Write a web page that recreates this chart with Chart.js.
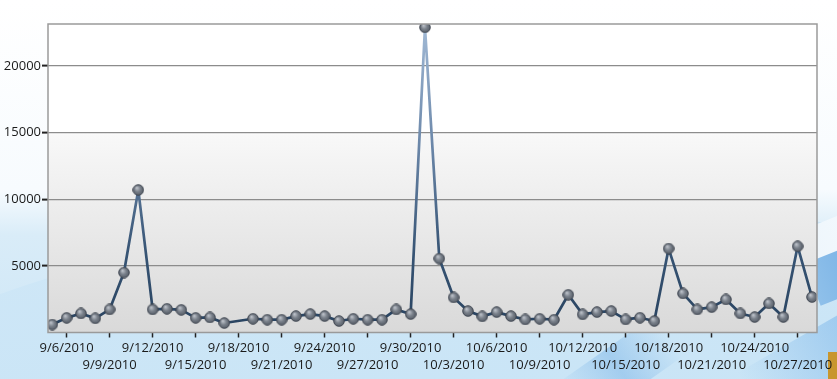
<!DOCTYPE html>
<html>
<head>
<meta charset="utf-8">
<script src="https://cdn.jsdelivr.net/npm/chart.js@4.4.0/dist/chart.umd.min.js"></script>
<style>
  html, body { margin: 0; padding: 0; }
  body {
    width: 837px; height: 379px; overflow: hidden; position: relative;
    background: linear-gradient(to bottom, #ffffff 0%, #f7fbfe 50%, #d9ecf8 62%, #cbe5f6 100%);
  }
  .swoosh { position: absolute; pointer-events: none; }
  #s1 { left: -200px; top: 210px; width: 1300px; height: 400px; border-radius: 50%;
        background: linear-gradient(to bottom, #cfe7f7, #c3e2f5); transform: rotate(-4deg); }
  #s2 { left: 805px; top: 225px; width: 200px; height: 45px;
        background: linear-gradient(to right, #8fc0ea, #3a8cd8); transform: rotate(-22deg); }
  #s3 { left: 800px; top: 192px; width: 200px; height: 36px;
        background: linear-gradient(to right, #eef6fc, #ffffff); transform: rotate(-22deg); }
  #s4 { left: 560px; top: 345px; width: 120px; height: 50px;
        background: linear-gradient(to right, rgba(90,160,225,0), rgba(90,160,225,0.35), rgba(90,160,225,0));
        transform: rotate(-35deg); }
  #s5 { left: 740px; top: 335px; width: 140px; height: 50px;
        background: linear-gradient(to right, rgba(70,150,225,0), rgba(70,150,225,0.4));
        transform: rotate(-30deg); }
  #s6 { left: 828px; top: 352px; width: 9px; height: 27px; background: #c8962e; }
  #wrap { position: absolute; left: 0; top: 0; width: 837px; height: 379px; }
</style>
</head>
<body>
<div class="swoosh" id="s1"></div>
<div class="swoosh" id="s3"></div>
<div class="swoosh" id="s2"></div>
<div class="swoosh" id="s4"></div>
<div class="swoosh" id="s5"></div>
<div class="swoosh" id="s6"></div>
<div id="wrap"><canvas id="chart" width="837" height="379"></canvas></div>
<script>
'use strict';

// Dates that have a value (9/18 is missing in the source).
var dates = [
  '9/5/2010', '9/6/2010', '9/7/2010', '9/8/2010', '9/9/2010', '9/10/2010',
  '9/11/2010', '9/12/2010', '9/13/2010', '9/14/2010', '9/15/2010', '9/16/2010',
  '9/17/2010', '9/19/2010', '9/20/2010', '9/21/2010', '9/22/2010', '9/23/2010',
  '9/24/2010', '9/25/2010', '9/26/2010', '9/27/2010', '9/28/2010', '9/29/2010',
  '9/30/2010', '10/1/2010', '10/2/2010', '10/3/2010', '10/4/2010', '10/5/2010',
  '10/6/2010', '10/7/2010', '10/8/2010', '10/9/2010', '10/10/2010', '10/11/2010',
  '10/12/2010', '10/13/2010', '10/14/2010', '10/15/2010', '10/16/2010', '10/17/2010',
  '10/18/2010', '10/19/2010', '10/20/2010', '10/21/2010', '10/22/2010', '10/23/2010',
  '10/24/2010', '10/25/2010', '10/26/2010', '10/27/2010', '10/28/2010'
];

var counts = [
  600, 1100, 1430, 1060, 1730, 4500,
  10700, 1730, 1780, 1700, 1100, 1130,
  710, 1030, 960, 960, 1230, 1380,
  1230, 860, 1030, 960, 960, 1730,
  1380, 22900, 5550, 2630, 1610, 1210,
  1530, 1230, 980, 1030, 960, 2830,
  1360, 1530, 1610, 980, 1110, 860,
  6300, 2930, 1730, 1900, 2480, 1430,
  1160, 2180, 1160, 6470, 2660
];

// Axis labels every third day.
var tickDates = [
  '9/6/2010', '9/9/2010', '9/12/2010', '9/15/2010', '9/18/2010', '9/21/2010',
  '9/24/2010', '9/27/2010', '9/30/2010', '10/3/2010', '10/6/2010', '10/9/2010',
  '10/12/2010', '10/15/2010', '10/18/2010', '10/21/2010', '10/24/2010', '10/27/2010'
];

var yTicks = [5000, 10000, 15000, 20000];

function dayNumber(str) {
  var p = str.split('/');
  return Date.UTC(+p[2], +p[0] - 1, +p[1]) / 86400000;
}

function dayLabel(value) {
  var d = new Date(Math.round(value) * 86400000);
  return (d.getUTCMonth() + 1) + '/' + d.getUTCDate() + '/' + d.getUTCFullYear();
}

var points = dates.map(function(d, i) {
  return { x: dayNumber(d), y: counts[i] };
});

var firstDay = dayNumber(dates[0]);
var lastDay = dayNumber(dates[dates.length - 1]);

// Little shaded sphere used as the marker.
function makeBall() {
  var c = document.createElement('canvas');
  c.width = 12; c.height = 12;
  var g = c.getContext('2d');
  var rg = g.createRadialGradient(4.5, 4, 0.5, 6, 6, 6);
  rg.addColorStop(0, '#b9bec6');
  rg.addColorStop(0.45, '#7a818b');
  rg.addColorStop(1, '#4f5660');
  g.beginPath();
  g.arc(6, 6, 5.3, 0, Math.PI * 2);
  g.fillStyle = rg;
  g.fill();
  g.lineWidth = 0.9;
  g.strokeStyle = '#3e4550';
  g.stroke();
  return c;
}

var plotFrame = {
  id: 'plotFrame',
  beforeDraw: function(chart) {
    var a = chart.chartArea, ctx = chart.ctx;
    var g = ctx.createLinearGradient(0, a.top, 0, a.bottom);
    g.addColorStop(0, '#ffffff');
    g.addColorStop(0.35, '#ffffff');
    g.addColorStop(0.36, '#f8f8f8');
    g.addColorStop(1, '#d9d9d9');
    ctx.save();
    ctx.fillStyle = g;
    ctx.fillRect(a.left, a.top, a.right - a.left, a.bottom - a.top);
    ctx.restore();
  },
  afterDatasetsDraw: function(chart) {
    var a = chart.chartArea, ctx = chart.ctx;
    ctx.save();
    ctx.strokeStyle = '#9a9a9a';
    ctx.lineWidth = 1.5;
    ctx.strokeRect(a.left, a.top, a.right - a.left, a.bottom - a.top);
    ctx.restore();
  }
};

function lineGradient(context) {
  var a = context.chart.chartArea;
  if (!a) return '#2f4b6b';
  var g = context.chart.ctx.createLinearGradient(0, a.bottom, 0, a.top);
  g.addColorStop(0, '#28425f');
  g.addColorStop(0.25, '#365373');
  g.addColorStop(0.6, '#6a86a8');
  g.addColorStop(1, '#a2bad6');
  return g;
}

var fontFamily = "'Open Sans', 'DejaVu Sans', sans-serif";

new Chart(document.getElementById('chart'), {
  type: 'line',
  data: {
    datasets: [{
      data: points,
      borderColor: lineGradient,
      borderWidth: 2.7,
      borderJoinStyle: 'round',
      tension: 0,
      pointStyle: makeBall(),
      pointRadius: 5,
      pointHoverRadius: 5
    }]
  },
  options: {
    responsive: false,
    animation: false,
    events: [],
    layout: { padding: { top: 24, right: 20, left: 0, bottom: 0 } },
    plugins: { legend: { display: false }, tooltip: { enabled: false } },
    scales: {
      x: {
        type: 'linear',
        min: firstDay - 0.3,
        max: lastDay + 0.35,
        afterBuildTicks: function(scale) {
          scale.ticks = tickDates.map(function(d) { return { value: dayNumber(d) }; });
        },
        afterFit: function(scale) { scale.height = 46.5; },
        ticks: {
          autoSkip: false,
          maxRotation: 0,
          padding: 2,
          color: '#1a1a1a',
          font: { family: fontFamily, size: 13, lineHeight: 1.3 },
          callback: function(value, index) {
            var label = dayLabel(value);
            return index % 2 === 0 ? [label, ''] : ['', label];
          }
        },
        grid: {
          drawOnChartArea: false,
          tickLength: 5,
          tickColor: '#222',
          tickWidth: 1.5
        },
        border: { display: false }
      },
      y: {
        min: 0,
        max: 23150,
        afterBuildTicks: function(scale) {
          scale.ticks = yTicks.map(function(v) { return { value: v }; });
        },
        afterFit: function(scale) { scale.width = 48; },
        ticks: {
          padding: 1,
          color: '#1a1a1a',
          font: { family: fontFamily, size: 13 },
          callback: function(value) { return String(value); }
        },
        grid: {
          color: '#8c8c8c',
          lineWidth: 1.2,
          tickLength: 6,
          tickColor: '#222',
          tickWidth: 2
        },
        border: { display: false }
      }
    }
  },
  plugins: [plotFrame]
});
</script>
</body>
</html>
